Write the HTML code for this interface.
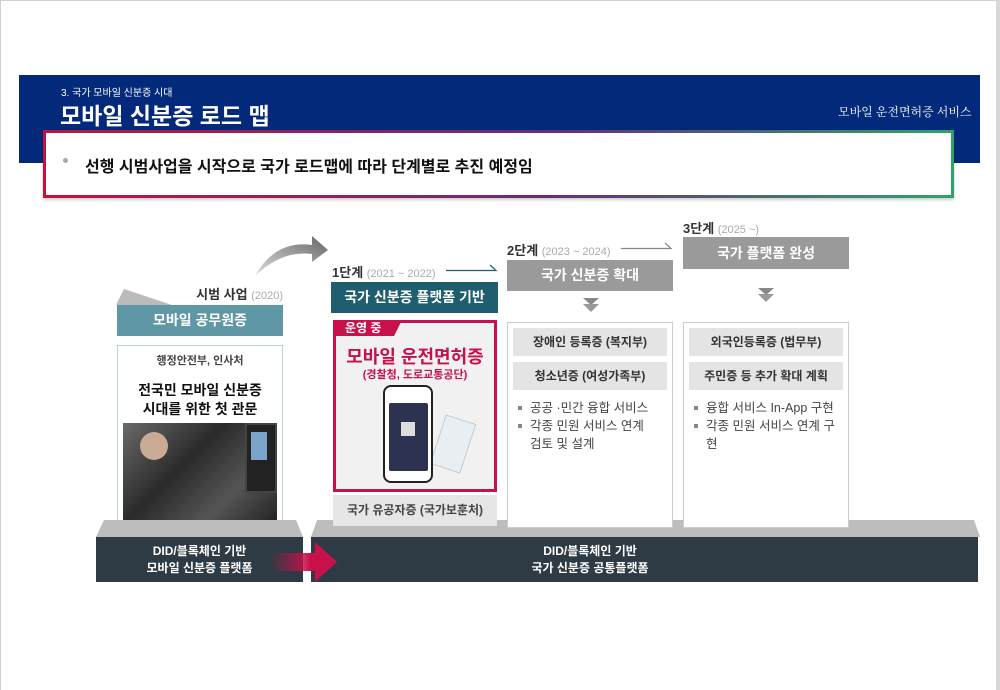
<!DOCTYPE html>
<html><head><meta charset="utf-8"><style>
*{margin:0;padding:0;box-sizing:border-box}
body{width:1000px;height:690px;position:relative;background:#fff;font-family:"Liberation Sans","Noto Sans CJK KR",sans-serif;overflow:hidden}
.a{position:absolute}
.c{text-align:center}
.frame{left:0;top:0;width:1000px;height:690px;border:1px solid #d0d0d0;border-right:4px solid #d8d8d8;border-bottom:none}
.g{color:#aaa;font-weight:normal;font-size:11px}
ul{list-style:none}
li{position:relative;padding-left:14px;font-size:12.5px;color:#444;line-height:18px}
li:before{content:"";position:absolute;left:2px;top:7px;width:4px;height:4px;background:#888}
.row{background:#e4e4e4;font-size:12px;font-weight:bold;color:#333;text-align:center;line-height:28px;position:absolute;left:5px;right:5px;height:28px}
</style></head><body>
<div class="a frame"></div>
<div class="a" style="left:19px;top:75px;width:961px;height:88px;background:#03297a"></div>
<div class="a" style="left:61px;top:84px;color:#fff;font-size:10px">3. 국가 모바일 신분증 시대</div>
<div class="a" style="left:60px;top:97px;color:#fff;font-size:23px;font-weight:bold">모바일 신분증 로드 맵</div>
<div class="a" style="left:838px;top:103px;color:#fff;font-size:12px;font-family:'Liberation Serif','Noto Serif CJK SC',serif">모바일 운전면허증 서비스</div>
<div class="a" style="left:43px;top:130px;width:911px;height:68px;background:linear-gradient(90deg,#c0143c,#6a2a7a 55%,#2ea36b);padding:3px;box-shadow:0 2px 3px rgba(0,0,0,.2)">
<div style="background:#fff;width:100%;height:100%"></div></div>
<div class="a" style="left:63px;top:158px;width:5px;height:5px;border-radius:50%;background:#aaa"></div>
<div class="a" style="left:85px;top:153px;font-size:16px;font-weight:bold;color:#111">선행 시범사업을 시작으로 국가 로드맵에 따라 단계별로 추진 예정임</div>

<svg class="a" style="left:240px;top:228px" width="100" height="60"><defs><linearGradient id="ga" x1="0" y1="1" x2="1" y2="0"><stop offset="0" stop-color="#ddd"/><stop offset="1" stop-color="#666"/></linearGradient></defs>
<path d="M15 48 Q35 12 72 17 L72 8 L88 22 L72 34 L72 26 Q42 22 15 48Z" fill="url(#ga)"/></svg>

<svg class="a" style="left:112px;top:285px" width="60" height="22"><polygon points="4,20 12,4 60,20" fill="#bbb"/></svg>
<div class="a" style="left:190px;top:284px;width:93px;text-align:right;font-size:13px;font-weight:bold;color:#333">시범 사업 <span class="g">(2020)</span></div>
<div class="a c" style="left:117px;top:305px;width:166px;height:31px;background:#5f97a5;color:#fff;font-size:14px;font-weight:bold;line-height:31px">모바일 공무원증</div>
<div class="a" style="left:117px;top:345px;width:166px;height:186px;border:1px solid #b8d4da;background:#fff"></div>
<div class="a c" style="left:117px;top:352px;width:166px;font-size:11px;color:#444;font-weight:bold">행정안전부, 인사처</div>
<div class="a c" style="left:117px;top:381px;width:166px;font-size:14px;font-weight:bold;color:#111;line-height:19px">전국민 모바일 신분증<br>시대를 위한 첫 관문</div>
<div class="a" style="left:123px;top:423px;width:154px;height:102px;background:linear-gradient(135deg,#6a6a6a,#2a2a2a 40%,#555 70%,#222)"></div>
<div class="a" style="left:140px;top:432px;width:28px;height:28px;border-radius:50%;background:#c9aa95"></div>
<div class="a" style="left:245px;top:423px;width:32px;height:70px;background:#222;border:2px solid #444"></div>
<div class="a" style="left:251px;top:432px;width:16px;height:28px;background:#7aa3c9"></div>

<svg class="a" style="left:96px;top:518px" width="890" height="22"><polygon points="8,2 200,2 207,19 0,19" fill="#bdbdbd"/><polygon points="221,2 878,2 884,19 215,19" fill="#bdbdbd"/></svg>
<div class="a" style="left:96px;top:537px;width:207px;height:45px;background:#2e3b44"></div>
<div class="a" style="left:311px;top:537px;width:667px;height:45px;background:#2e3b44"></div>
<div class="a c" style="left:96px;top:543px;width:207px;color:#fff;font-size:12px;font-weight:bold;line-height:17px">DID/블록체인 기반<br>모바일 신분증 플랫폼</div>
<div class="a c" style="left:490px;top:543px;width:200px;color:#fff;font-size:12px;font-weight:bold;line-height:17px">DID/블록체인 기반<br>국가 신분증 공통플랫폼</div>
<svg class="a" style="left:270px;top:540px" width="70" height="44"><defs><linearGradient id="gr" x1="0" x2="1"><stop offset="0" stop-color="#c8104a" stop-opacity="0"/><stop offset=".6" stop-color="#c8104a"/></linearGradient></defs><polygon points="0,13 45,13 45,2 67,22 45,42 45,31 0,31" fill="url(#gr)"/></svg>

<!-- connector lines -->
<svg class="a" style="left:0;top:0" width="1000" height="300">
<path d="M446 270.5 H496 L490 265" fill="none" stroke="#1f5e6e" stroke-width="1.2"/>
<path d="M621 248.5 H671 L665 243" fill="none" stroke="#888" stroke-width="1.2"/>
</svg>

<div class="a" style="left:332px;top:262px;font-size:13px;font-weight:bold;color:#333">1단계 <span class="g">(2021 ~ 2022)</span></div>
<div class="a c" style="left:331px;top:282px;width:167px;height:31px;background:#1f5e6e;color:#fff;font-size:14px;font-weight:bold;line-height:31px">국가 신분증 플랫폼 기반</div>
<div class="a" style="left:333px;top:320px;width:164px;height:172px;border:3px solid #c8104a;background:#f1f1f1"></div>
<div class="a" style="left:336px;top:320px;width:66px;height:16px;background:#c8104a;clip-path:polygon(0 0,100% 0,88% 100%,0 100%);color:#fff;font-size:12px;font-weight:bold;line-height:16px;padding-left:9px">운영 중</div>
<div class="a c" style="left:333px;top:343px;width:164px;color:#c8104a;font-size:18px;font-weight:bold">모바일 운전면허증</div>
<div class="a c" style="left:333px;top:366px;width:164px;color:#c8104a;font-size:11px;font-weight:bold">(경찰청, 도로교통공단)</div>
<div class="a" style="left:437px;top:418px;width:32px;height:52px;background:#e8eef2;transform:rotate(18deg);border:1px solid #ccc"></div>
<div class="a" style="left:383px;top:385px;width:50px;height:98px;border-radius:8px;background:#fff;border:2px solid #222"></div>
<div class="a" style="left:389px;top:403px;width:39px;height:68px;background:#2c3250;border-radius:2px"></div>
<div class="a" style="left:401px;top:422px;width:14px;height:14px;background:#ddd"></div>
<div class="a c" style="left:333px;top:495px;width:164px;height:31px;background:#e6e6e6;font-size:12px;font-weight:bold;color:#444;line-height:31px">국가 유공자증 (국가보훈처)</div>

<div class="a" style="left:507px;top:240px;font-size:13px;font-weight:bold;color:#333">2단계 <span class="g">(2023 ~ 2024)</span></div>
<div class="a c" style="left:507px;top:260px;width:166px;height:31px;background:#9a9a9a;color:#fff;font-size:14px;font-weight:bold;line-height:31px">국가 신분증 확대</div>
<svg class="a" style="left:583px;top:298px" width="16" height="16"><polygon points="0,0 16,0 8,7" fill="#888"/><polygon points="0,6 16,6 8,14" fill="#999"/></svg>
<div class="a" style="left:507px;top:322px;width:166px;height:206px;border:1px solid #ccc;background:#fff">
<div class="row" style="top:5px">장애인 등록증 (복지부)</div>
<div class="row" style="top:39px">청소년증 (여성가족부)</div>
<ul class="a" style="left:8px;top:76px;width:140px"><li>공공 ·민간 융합 서비스</li><li>각종 민원 서비스 연계 검토 및 설계</li></ul>
</div>

<div class="a" style="left:683px;top:218px;font-size:13px;font-weight:bold;color:#333">3단계 <span class="g">(2025 ~)</span></div>
<div class="a c" style="left:683px;top:237px;width:166px;height:32px;background:#9a9a9a;color:#fff;font-size:14px;font-weight:bold;line-height:32px">국가 플랫폼 완성</div>
<svg class="a" style="left:758px;top:288px" width="16" height="16"><polygon points="0,0 16,0 8,7" fill="#888"/><polygon points="0,6 16,6 8,14" fill="#999"/></svg>
<div class="a" style="left:683px;top:322px;width:166px;height:206px;border:1px solid #ccc;background:#fff">
<div class="row" style="top:5px">외국인등록증 (법무부)</div>
<div class="row" style="top:39px">주민증 등 추가 확대 계획</div>
<ul class="a" style="left:8px;top:76px;width:150px"><li>융합 서비스 In-App 구현</li><li>각종 민원 서비스 연계 구<br>현</li></ul>
</div>
</body></html>
